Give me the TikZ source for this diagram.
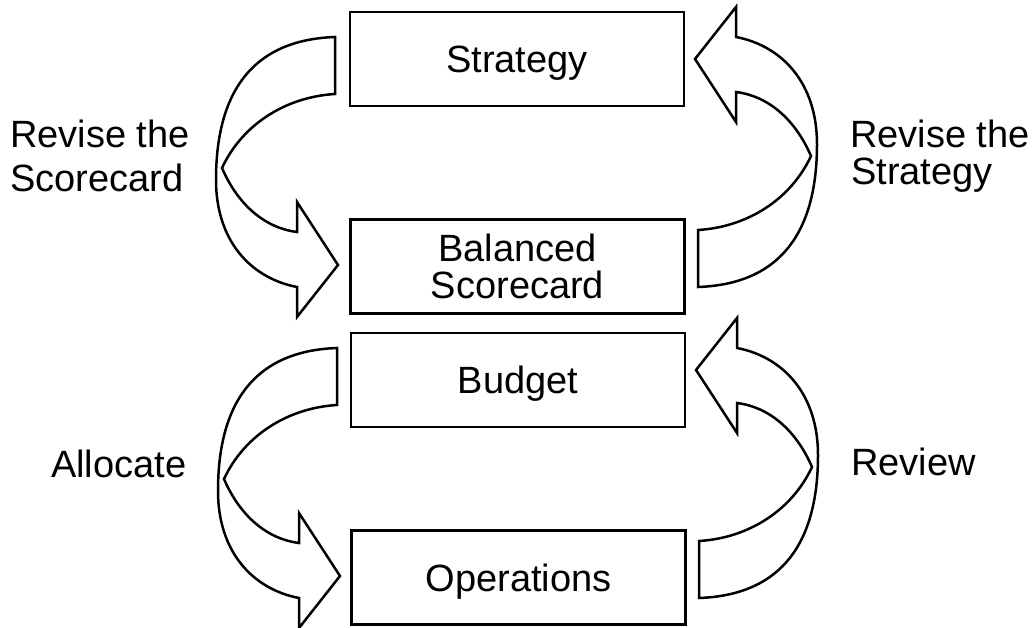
\documentclass[tikz,border=0pt]{standalone}
\usepackage{fontspec}
\setmainfont{Liberation Sans}
\begin{document}
\begin{tikzpicture}[x=1pt,y=-1pt,
  box/.style={draw, line width=2.5pt, minimum width=334pt, minimum height=94pt, inner sep=0pt, font=\fontsize{38}{37}\selectfont},
  onebox/.style={box, text height=27pt, text depth=0pt},
  twobox/.style={box, align=center},
  lbl/.style={anchor=base west, inner sep=0pt, font=\fontsize{38}{44}\selectfont},
  bendarrow/.pic={
    \draw[line width=2.5pt, line join=miter, fill=white]
      (0,0) .. controls (-85,3) and (-119,58) .. (-119,143)
            .. controls (-119,203) and (-85,241) .. (-38,250)
      -- (-38,280) -- (3,228) -- (-38,165) -- (-38,195)
            .. controls (-70,191) and (-97,168) .. (-113,131)
            .. controls (-93,88) and (-50,60) .. (0,57)
      -- cycle;
  }
]
\useasboundingbox (0,0) rectangle (1033,628);
\fill[white] (0,0) rectangle (1033,628);

% boxes
\node[onebox] (strategy) at (517,59) {Strategy};
\node[twobox] (bsc) at (517.5,266.5) {Balanced\\Scorecard};
\node[onebox] (budget) at (518,380) {Budget};
\node[onebox] (operations) at (518.5,577.5) {Operations};

% curved arrows
\pic at (335,37) {bendarrow};
\pic[rotate=180] at (698,287) {bendarrow};
\pic at (337,348) {bendarrow};
\pic[rotate=180] at (699,598) {bendarrow};

% side labels
\node[lbl] (rsc1) at (10,148) {Revise the};
\node[lbl] (rsc2) at (10,192) {Scorecard};
\node[lbl] (rst1) at (850,148) {Revise the};
\node[lbl] (rst2) at (851,185) {Strategy};
\node[lbl] (alloc) at (51,477) {Allocate};
\node[lbl] (review) at (851,475) {Review};
\end{tikzpicture}
\end{document}
